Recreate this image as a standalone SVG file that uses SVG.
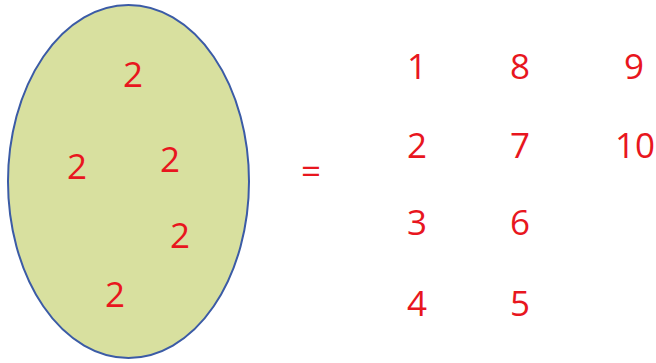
<svg xmlns="http://www.w3.org/2000/svg" width="656" height="363" viewBox="0 0 656 363">
<style>
text{font-family:"Open Sans","Liberation Sans",sans-serif;font-size:35px;fill:#e8161e;text-anchor:middle}
</style>
<rect width="656" height="363" fill="#ffffff"/>
<g id="set">
<ellipse cx="128.5" cy="181.5" rx="120.5" ry="176.5" fill="#d8e09f" stroke="#3b5ba6" stroke-width="2"/>
<text x="133" y="87">2</text>
<text x="77" y="179">2</text>
<text x="170" y="172">2</text>
<text x="180" y="248">2</text>
<text x="115" y="307">2</text>
</g>
<g id="equals"><text x="311" y="184">=</text></g>
<g id="numbers">
<text x="417" y="79">1</text>
<text x="520" y="79">8</text>
<text x="634" y="79">9</text>
<text x="417" y="158">2</text>
<text x="520" y="158">7</text>
<text x="635" y="158">10</text>
<text x="417" y="235">3</text>
<text x="520" y="235">6</text>
<text x="417" y="316">4</text>
<text x="520" y="316">5</text>
</g>
</svg>
